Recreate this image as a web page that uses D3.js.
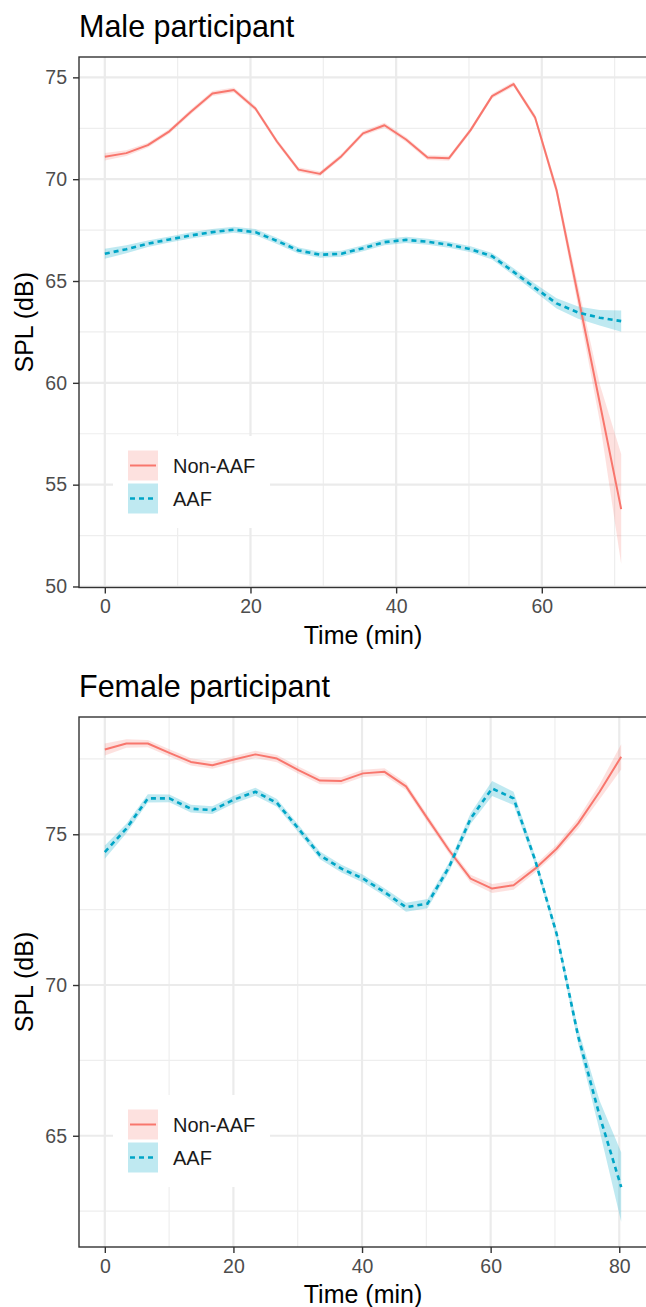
<!DOCTYPE html>
<html>
<head>
<meta charset="utf-8">
<script src="https://cdn.jsdelivr.net/npm/d3@7"></script>
<style>
  body { margin: 0; background: #fff; }
  text { font-family: "Liberation Sans", Arial, sans-serif; }
</style>
</head>
<body>
<div id="my_dataviz"></div>
<script>
// ---- data ----
const seriesNames = ['Non-AAF', 'AAF']

const maleTime = [0, 2.95, 5.91, 8.86, 11.82, 14.77, 17.72, 20.68, 23.63, 26.59, 29.54, 32.49, 35.45,
  38.40, 41.36, 44.31, 47.26, 50.22, 53.17, 56.13, 59.08, 62.03, 64.99, 67.94, 70.90]
const maleNonAAF = [71.10, 71.28, 71.67, 72.35, 73.31, 74.21, 74.38, 73.47, 71.85, 70.47, 70.26, 71.13, 72.25,
  72.65, 71.95, 71.06, 71.03, 72.41, 74.08, 74.67, 73.03, 69.46, 64.25, 59.05, 53.80]
const maleNonAAFci = [0.18, 0.14, 0.12, 0.12, 0.12, 0.12, 0.12, 0.12, 0.12, 0.12, 0.12, 0.12, 0.12,
  0.12, 0.12, 0.12, 0.12, 0.12, 0.12, 0.12, 0.15, 0.25, 0.5, 0.9, 2.7]
const maleAAF = [66.34, 66.56, 66.83, 67.04, 67.24, 67.40, 67.52, 67.40, 66.97, 66.50, 66.29, 66.34, 66.61,
  66.91, 67.02, 66.93, 66.78, 66.56, 66.22, 65.45, 64.66, 63.90, 63.45, 63.20, 63.03]
const maleAAFci = [0.25, 0.2, 0.16, 0.15, 0.15, 0.15, 0.15, 0.15, 0.15, 0.15, 0.15, 0.15, 0.15,
  0.15, 0.15, 0.15, 0.15, 0.15, 0.16, 0.18, 0.2, 0.25, 0.3, 0.38, 0.52]

const femaleTime = [0, 3.35, 6.69, 10.04, 13.38, 16.73, 20.08, 23.42, 26.77, 30.11, 33.46, 36.80, 40.15,
  43.50, 46.84, 50.19, 53.53, 56.88, 60.23, 63.57, 66.92, 70.26, 73.61, 76.95, 80.30]
const femaleNonAAF = [77.81, 78.01, 78.01, 77.70, 77.40, 77.29, 77.48, 77.65, 77.51, 77.13, 76.78, 76.77, 77.02,
  77.07, 76.59, 75.52, 74.47, 73.53, 73.20, 73.31, 73.86, 74.52, 75.36, 76.41, 77.57]
const femaleNonAAFci = [0.2, 0.14, 0.12, 0.12, 0.12, 0.12, 0.12, 0.12, 0.12, 0.12, 0.12, 0.12, 0.12,
  0.12, 0.12, 0.12, 0.12, 0.13, 0.15, 0.15, 0.13, 0.13, 0.17, 0.25, 0.42]
const femaleAAF = [74.41, 75.19, 76.19, 76.19, 75.85, 75.80, 76.15, 76.41, 76.04, 75.19, 74.30, 73.86, 73.53,
  73.08, 72.58, 72.70, 73.91, 75.52, 76.52, 76.19, 74.14, 71.70, 68.30, 65.66, 63.30]
const femaleAAFci = [0.22, 0.16, 0.14, 0.13, 0.13, 0.13, 0.13, 0.13, 0.13, 0.13, 0.13, 0.13, 0.13,
  0.13, 0.15, 0.15, 0.15, 0.18, 0.25, 0.22, 0.15, 0.15, 0.25, 0.5, 1.15]

const xTicks = [0, 20, 40, 60, 80]
const xMinor = [10, 30, 50, 70]
const maleYTicks = [50, 55, 60, 65, 70, 75]
const maleYMinor = [52.5, 57.5, 62.5, 67.5, 72.5]
const femaleYTicks = [65, 70, 75]
const femaleYMinor = [62.5, 67.5, 72.5, 77.5]

// ---- styling ----
const W = 646, H = 1307
const lineColor = ['#F8766D', '#00A5C6']
const fillColor = ['#F8766D', '#2BB5CF']
const fillOpacity = [0.22, 0.3]

const svg = d3.select('#my_dataviz').append('svg')
  .attr('width', W).attr('height', H)

const makeRows = (t, v, ci) => t.map((d, i) => ({ t: d, v: v[i], lo: v[i] - ci[i], hi: v[i] + ci[i] }))

function drawPanel(cfg) {
  const g = svg.append('g')
  const left = 79, right = 647
  const top = cfg.top, bottom = cfg.bottom

  // ggplot style 5% expansion
  const tExt = d3.extent(cfg.time)
  const tPad = (tExt[1] - tExt[0]) * 0.05
  const x = d3.scaleLinear().domain([tExt[0] - tPad, tExt[1] + tPad]).range([left, right])
  const y = d3.scaleLinear().domain(cfg.yDomain).range([bottom, top])

  // title
  g.append('text').attr('x', left).attr('y', top - 20)
    .attr('font-size', 30.5).attr('fill', '#000').text(cfg.title)

  // grid
  g.selectAll('.ymin').data(cfg.yMinor).enter().append('line')
    .attr('x1', left).attr('x2', right).attr('y1', y).attr('y2', y)
    .attr('stroke', '#EEEEEE').attr('stroke-width', 1.2)
  g.selectAll('.xmin').data(xMinor.filter(d => x(d) < right)).enter().append('line')
    .attr('y1', top).attr('y2', bottom).attr('x1', x).attr('x2', x)
    .attr('stroke', '#EEEEEE').attr('stroke-width', 1.2)
  g.selectAll('.ymaj').data(cfg.yTicks).enter().append('line')
    .attr('x1', left).attr('x2', right).attr('y1', y).attr('y2', y)
    .attr('stroke', '#EBEBEB').attr('stroke-width', 2.2)
  const xt = xTicks.filter(d => x(d) < right)
  g.selectAll('.xmaj').data(xt).enter().append('line')
    .attr('y1', top).attr('y2', bottom).attr('x1', x).attr('x2', x)
    .attr('stroke', '#EBEBEB').attr('stroke-width', 2.2)

  // legend box sits inside the panel, under the data
  const lg = g.append('g').attr('transform', `translate(113,${cfg.legendTop})`)
  lg.append('rect').attr('width', 157).attr('height', 92).attr('fill', '#fff')

  const series = [
    makeRows(cfg.time, cfg.nonAAF, cfg.nonAAFci),
    makeRows(cfg.time, cfg.aaf, cfg.aafci)
  ]

  const area = d3.area().x(d => x(d.t)).y0(d => y(d.lo)).y1(d => y(d.hi))
  const line = d3.line().x(d => x(d.t)).y(d => y(d.v))

  series.forEach((rows, i) => {
    g.append('path').attr('d', area(rows))
      .attr('fill', fillColor[i]).attr('fill-opacity', fillOpacity[i])
  })
  series.forEach((rows, i) => {
    g.append('path').attr('d', line(rows))
      .attr('fill', 'none').attr('stroke', lineColor[i])
      .attr('stroke-width', i == 0 ? 2 : 2.6)
      .attr('stroke-dasharray', i == 0 ? null : '5,4')
      .attr('stroke-linejoin', 'round')
  })

  // legend keys
  seriesNames.forEach((name, i) => {
    const ky = 14.5 + i * 33
    lg.append('rect').attr('x', 15).attr('y', ky).attr('width', 30).attr('height', 30)
      .attr('fill', fillColor[i]).attr('fill-opacity', fillOpacity[i])
    lg.append('line').attr('x1', 17).attr('x2', 43).attr('y1', ky + 15).attr('y2', ky + 15)
      .attr('stroke', lineColor[i]).attr('stroke-width', i == 0 ? 2 : 2.6)
      .attr('stroke-dasharray', i == 0 ? null : '5,4')
    lg.append('text').attr('x', 60).attr('y', ky + 22)
      .attr('font-size', 20).attr('fill', '#1a1a1a').text(name)
  })

  // panel border
  g.append('rect').attr('x', left).attr('y', top)
    .attr('width', right - left).attr('height', bottom - top)
    .attr('fill', 'none').attr('stroke', '#333').attr('stroke-width', 1.4)

  // y axis
  const yAxis = g.append('g').attr('transform', `translate(${left},0)`)
    .call(d3.axisLeft(y).tickValues(cfg.yTicks).tickSize(6).tickPadding(6))
  // x axis
  const xAxis = g.append('g').attr('transform', `translate(0,${bottom})`)
    .call(d3.axisBottom(x).tickValues(xt).tickSize(6).tickPadding(6))
  ;[yAxis, xAxis].forEach(a => {
    a.select('.domain').remove()
    a.selectAll('.tick line').attr('stroke', '#333').attr('stroke-width', 1.4)
    a.selectAll('.tick text').attr('fill', '#4D4D4D').attr('font-size', 19.5)
      .style('font-family', '"Liberation Sans", Arial, sans-serif')
  })

  // axis titles
  g.append('text').attr('x', (left + right) / 2).attr('y', bottom + 56)
    .attr('text-anchor', 'middle').attr('font-size', 25).attr('fill', '#000')
    .text('Time (min)')
  g.append('text')
    .attr('transform', `translate(33,${(top + bottom) / 2}) rotate(-90)`)
    .attr('text-anchor', 'middle').attr('font-size', 25).attr('fill', '#000')
    .text('SPL (dB)')
}

drawPanel({
  title: 'Male participant', top: 57, bottom: 587.5, yDomain: [49.95, 76.0],
  yTicks: maleYTicks, yMinor: maleYMinor, legendTop: 436,
  time: maleTime, nonAAF: maleNonAAF, nonAAFci: maleNonAAFci, aaf: maleAAF, aafci: maleAAFci
})

drawPanel({
  title: 'Female participant', top: 717, bottom: 1247, yDomain: [61.31, 78.89],
  yTicks: femaleYTicks, yMinor: femaleYMinor, legendTop: 1095,
  time: femaleTime, nonAAF: femaleNonAAF, nonAAFci: femaleNonAAFci, aaf: femaleAAF, aafci: femaleAAFci
})
</script>
</body>
</html>
